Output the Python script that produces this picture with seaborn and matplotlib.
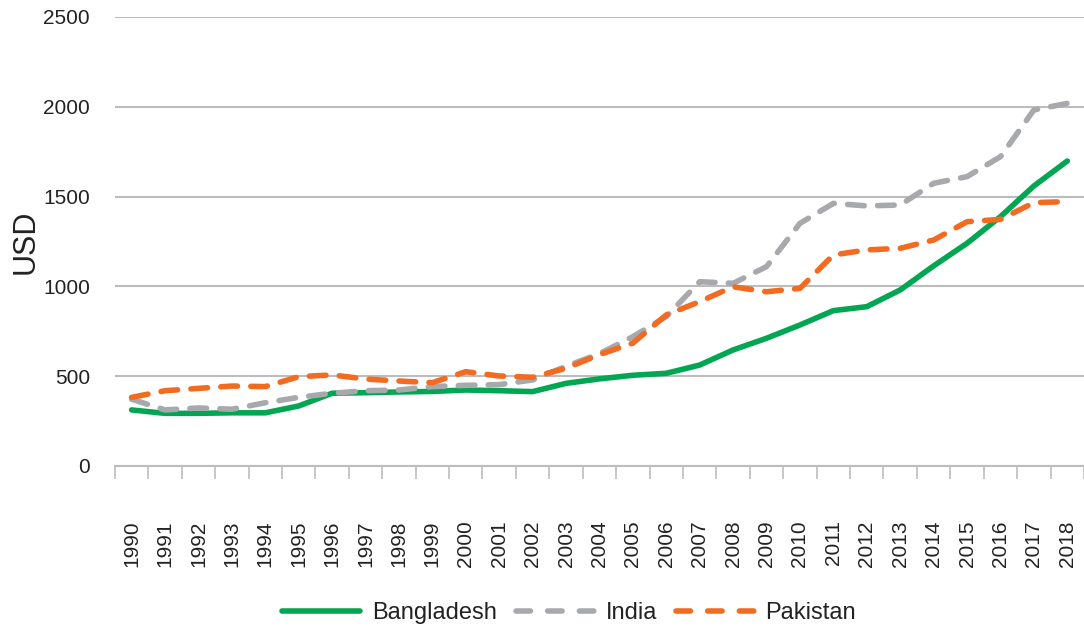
import numpy as np
import pandas as pd
import matplotlib
matplotlib.use('Agg')
import matplotlib.pyplot as plt
import seaborn as sns

# GDP per capita (USD)
years = list(range(1990, 2019))
bangladesh = [312, 293, 293, 296, 296, 334, 405, 408, 412, 415, 423, 419, 414, 460,
              485, 505, 516, 562, 646, 711, 785, 865, 887, 980, 1114, 1240, 1388, 1559, 1698]
india = [372, 312, 323, 316, 352, 382, 405, 419, 423, 442, 449, 453, 479, 555,
         625, 720, 832, 1026, 1017, 1110, 1351, 1462, 1448, 1453, 1574, 1611, 1722, 1982, 2019]
pakistan = [382, 419, 432, 445, 442, 497, 507, 484, 473, 464, 525, 501, 494, 544,
            620, 684, 841, 915, 998, 970, 989, 1175, 1203, 1212, 1258, 1360, 1373, 1466, 1472]
countries = ['Bangladesh', 'India', 'Pakistan']
colors = {'Bangladesh': '#00A651', 'India': '#A7A9AC', 'Pakistan': '#F26B21'}

data = pd.DataFrame({'Year': years * 3,
                     'Country': np.repeat(countries, len(years)),
                     'USD': bangladesh + india + pakistan})

sns.set_theme(style='white')
plt.rcParams['font.family'] = ['Liberation Sans', 'DejaVu Sans']

fig = plt.figure(figsize=(10.84, 6.28), dpi=100)
ax = fig.add_axes([0.106, 0.258, 0.894, 0.715])

sns.lineplot(data=data, x='Year', y='USD', hue='Country', style='Country',
             palette=colors, dashes={'Bangladesh': '', 'India': (3, 2.4), 'Pakistan': (3, 2.4)},
             linewidth=4, ax=ax, legend=True)
for line in ax.get_lines():
    line.set_dash_capstyle('round')
    line.set_solid_capstyle('round')

ax.set_xlim(years[0] - 0.5, years[-1] + 0.5)
ax.set_ylim(0, 2500)
ax.set_yticks([0, 500, 1000, 1500, 2000, 2500])
ax.yaxis.grid(True, color='#BDBDBD', linewidth=1.5)
ax.xaxis.grid(False)
for s in ['top', 'right', 'left']:
    ax.spines[s].set_visible(False)
ax.spines['bottom'].set_color('#BDBDBD')
ax.spines['bottom'].set_linewidth(1.5)

ax.set_xticks(years)
ax.set_xticklabels([str(y) for y in years], rotation=90, fontsize=15, color='#222222')
ax.set_xticks(np.arange(years[0] - 0.5, years[-1] + 1), minor=True)
ax.tick_params(axis='x', which='major', length=0, pad=39)
ax.tick_params(axis='x', which='minor', length=9, width=1.2, color='#BDBDBD', bottom=True)
ax.tick_params(axis='y', length=0, pad=18, labelsize=15, labelcolor='#222222')
ax.set_xlabel('')
ax.set_ylabel('USD', fontsize=22, color='#222222', labelpad=2)

handles, labels = ax.get_legend_handles_labels()
ax.get_legend().remove()
for h in handles:
    h.set_linewidth(4)
    h.set_dash_capstyle('round')
    h.set_solid_capstyle('round')
    if h.get_label() != 'Bangladesh':
        h.set_dashes((2.6, 3.1))
fig.legend(handles, labels, loc='lower center', bbox_to_anchor=(0.525, -0.028), ncol=3,
           frameon=False, fontsize=17, handlelength=3.3, handletextpad=0.5,
           columnspacing=0.8, labelcolor='#222222')

fig.savefig('out.png', dpi=100)
